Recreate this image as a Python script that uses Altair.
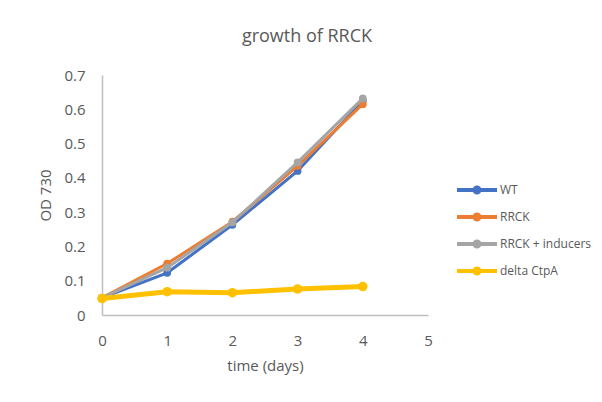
import altair as alt
import pandas as pd

days = [0, 1, 2, 3, 4]
series_names = ["WT", "RRCK", "RRCK + inducers", "delta CtpA"]
wt = [0.05, 0.123, 0.263, 0.42, 0.625]
rrck = [0.05, 0.15, 0.272, 0.435, 0.615]
rrck_ind = [0.05, 0.138, 0.27, 0.445, 0.632]
delta = [0.048, 0.068, 0.065, 0.076, 0.083]
colors = ["#4472C4", "#ED7D31", "#A5A5A5", "#FFC000"]
widths = [3, 3, 3, 5]

values = [wt, rrck, rrck_ind, delta]
rows = []
for name, vals in zip(series_names, values):
    for d, v in zip(days, vals):
        rows.append({"day": d, "od": v, "series": name})
df = pd.DataFrame(rows)

legend_symbol = "M-1,0L3,0M1.25,0A0.25,0.25,0,1,1,0.75,0A0.25,0.25,0,1,1,1.25,0"

color_scale = alt.Scale(domain=series_names, range=colors)
x_enc = alt.X("day:Q", scale=alt.Scale(domain=[0, 5]), title="time (days)",
              axis=alt.Axis(values=[0, 1, 2, 3, 4, 5], format="d", labelFlush=False))
y_enc = alt.Y("od:Q", scale=alt.Scale(domain=[0, 0.7]), title="OD 730",
              axis=alt.Axis(values=[0, 0.1, 0.2, 0.3, 0.4, 0.5, 0.6, 0.7], labelFlush=False,
                            labelExpr="datum.value == 0 ? '0' : format(datum.value, '.1f')"))

layers = []
for i, name in enumerate(series_names):
    base = alt.Chart(df).transform_filter(alt.datum.series == name)
    line = base.mark_line(strokeWidth=widths[i]).encode(
        x=x_enc, y=y_enc,
        color=alt.Color("series:N", scale=color_scale, title=None,
                        legend=alt.Legend(orient="none", legendX=353, legendY=103,
                                          symbolType=legend_symbol, symbolSize=400,
                                          symbolStrokeWidth=4, labelFontSize=12,
                                          labelColor="#595959", labelFont="Open Sans",
                                          rowPadding=4, labelOffset=21)),
    )
    pts = base.mark_point(filled=True, opacity=1, size=60 if i < 3 else 90).encode(
        x=x_enc, y=y_enc,
        color=alt.Color("series:N", scale=color_scale, legend=None),
    )
    layers += [line, pts]

chart = alt.layer(*layers).properties(
    width=326, height=240,
    title=alt.TitleParams("growth of RRCK", fontSize=18, font="Open Sans",
                          color="#595959", fontWeight="normal", dx=42, offset=22),
    autosize=alt.AutoSizeParams(type="none"),
    padding={"left": 102, "top": 75, "right": 174, "bottom": 87},
).configure_view(stroke=None).configure_axis(
    grid=False, ticks=False, domainColor="#BFBFBF", domainWidth=1.5,
    labelFont="Open Sans", labelFontSize=15, labelColor="#595959",
    titleFont="Open Sans", titleFontSize=15, titleColor="#595959",
    titleFontWeight="normal",
).configure_axisX(labelPadding=18, titlePadding=10).configure_axisY(
    labelPadding=17, titlePadding=10
)

chart.save("out.html", embed_options={"renderer": "svg", "actions": False})
